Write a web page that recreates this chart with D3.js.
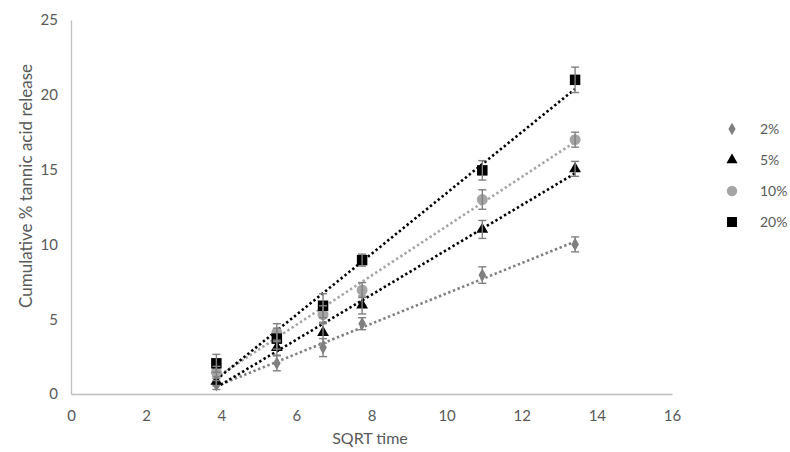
<!DOCTYPE html>
<html>
<head>
<meta charset="utf-8">
<script src="https://cdn.jsdelivr.net/npm/d3@7"></script>
<style>
  body { margin: 0; background: #fff; }
  text { font-family: Lato, "Open Sans", sans-serif; fill: #595959; }
</style>
</head>
<body>
<div id="chart"></div>
<script>
// sqrt of sampling time (15, 30, 45, 60, 120, 180)
const sqrtTime = [3.87, 5.48, 6.71, 7.75, 10.95, 13.42];

const rel2 = [0.6, 2.05, 3.1, 4.7, 7.95, 10.0];
const err2 = [0.3, 0.5, 0.6, 0.4, 0.55, 0.5];
const rel5 = [0.85, 3.1, 4.1, 5.95, 11.0, 15.05];
const err5 = [0.3, 0.5, 0.7, 0.6, 0.6, 0.5];
const rel10 = [1.45, 4.1, 5.3, 6.95, 13.0, 17.0];
const err10 = [0.4, 0.6, 0.6, 0.5, 0.65, 0.5];
const rel20 = [2.05, 3.7, 5.9, 8.95, 14.95, 21.0];
const err20 = [0.6, 0.7, 0.8, 0.4, 0.65, 0.85];

const seriesNames = ["2%", "5%", "10%", "20%"];
const xTicks = [0, 2, 4, 6, 8, 10, 12, 14, 16];
const yTicks = [0, 5, 10, 15, 20, 25];

const width = 790, height = 452;
const plot = {left: 71, right: 672, top: 20, bottom: 394};

const series = [
    {name: seriesNames[0], y: rel2, e: err2, color: "#7f7f7f", shape: d3.symbolDiamond, size: 50},
    {name: seriesNames[1], y: rel5, e: err5, color: "#000000", shape: d3.symbolTriangle, size: 60},
    {name: seriesNames[2], y: rel10, e: err10, color: "#a5a5a5", shape: d3.symbolCircle, size: 95},
    {name: seriesNames[3], y: rel20, e: err20, color: "#000000", shape: d3.symbolSquare, size: 110}
];

const x = d3.scaleLinear().domain([0, 16]).range([plot.left, plot.right]);
const y = d3.scaleLinear().domain([0, 25]).range([plot.bottom, plot.top]);

const svg = d3.select("#chart")
    .append("svg")
    .attr("width", width)
    .attr("height", height);

// axes (no tick marks, light grey lines)
const xAxis = svg.append("g")
    .attr("transform", "translate(0," + plot.bottom + ")")
    .call(d3.axisBottom(x).tickValues(xTicks).tickSize(0).tickPadding(16));
const yAxis = svg.append("g")
    .attr("transform", "translate(" + plot.left + ",0)")
    .call(d3.axisLeft(y).tickValues(yTicks).tickSize(0).tickPadding(13));

[xAxis, yAxis].forEach(function (g) {
    g.select(".domain").attr("stroke", "#bfbfbf").attr("stroke-width", 1.3);
    g.selectAll("text")
        .style("font-size", "15px")
        .style("font-family", "Lato, 'Open Sans', sans-serif")
        .attr("fill", "#595959");
});

svg.append("text")
    .attr("x", 370)
    .attr("y", 438)
    .attr("dy", "0.35em")
    .attr("text-anchor", "middle")
    .style("font-size", "16px")
    .text("SQRT time");

svg.append("text")
    .attr("transform", "translate(26,186) rotate(-90)")
    .attr("dy", "0.35em")
    .attr("text-anchor", "middle")
    .style("font-size", "17px")
    .text("Cumulative % tannic acid release");

// linear trendlines (least squares on each series)
function fit(xs, ys) {
    const mx = d3.mean(xs), my = d3.mean(ys);
    let sxy = 0, sxx = 0;
    xs.forEach(function (v, i) {
        sxy += (v - mx) * (ys[i] - my);
        sxx += (v - mx) * (v - mx);
    });
    const b = sxy / sxx;
    return {b: b, a: my - b * mx};
}

const line = d3.line()
    .x(function (d) { return x(d[0]); })
    .y(function (d) { return y(d[1]); });

series.forEach(function (s) {
    const f = fit(sqrtTime, s.y);
    const x0 = d3.min(sqrtTime), x1 = d3.max(sqrtTime);
    svg.append("path")
        .attr("d", line([[x0, f.a + f.b * x0], [x1, f.a + f.b * x1]]))
        .attr("fill", "none")
        .attr("stroke", s.color)
        .attr("stroke-width", 2.6)
        .attr("stroke-dasharray", "2.4,2.6");
});

// markers
series.forEach(function (s) {
    svg.append("g")
        .selectAll("path")
        .data(s.y)
        .enter()
        .append("path")
        .attr("transform", function (d, i) {
            return "translate(" + x(sqrtTime[i]) + "," + y(d) + ")";
        })
        .attr("d", d3.symbol().type(s.shape).size(s.size))
        .attr("fill", s.color);
});

// error bars
series.forEach(function (s) {
    const g = svg.append("g")
        .attr("stroke", "#808080")
        .attr("stroke-width", 1.4);
    s.y.forEach(function (v, i) {
        const cx = x(sqrtTime[i]);
        const top = y(v + s.e[i]), bot = y(v - s.e[i]);
        g.append("line").attr("x1", cx).attr("x2", cx).attr("y1", top).attr("y2", bot);
        g.append("line").attr("x1", cx - 4).attr("x2", cx + 4).attr("y1", top).attr("y2", top);
        g.append("line").attr("x1", cx - 4).attr("x2", cx + 4).attr("y1", bot).attr("y2", bot);
    });
});

// legend
const legend = svg.append("g");
series.forEach(function (s, i) {
    const ly = 129 + i * 31;
    legend.append("path")
        .attr("transform", "translate(732," + ly + ")")
        .attr("d", d3.symbol().type(s.shape).size(s.size * 0.9))
        .attr("fill", s.color);
    legend.append("text")
        .attr("x", 760)
        .attr("y", ly)
        .attr("dy", "0.35em")
        .style("font-size", "14px")
        .text(s.name);
});
</script>
</body>
</html>
